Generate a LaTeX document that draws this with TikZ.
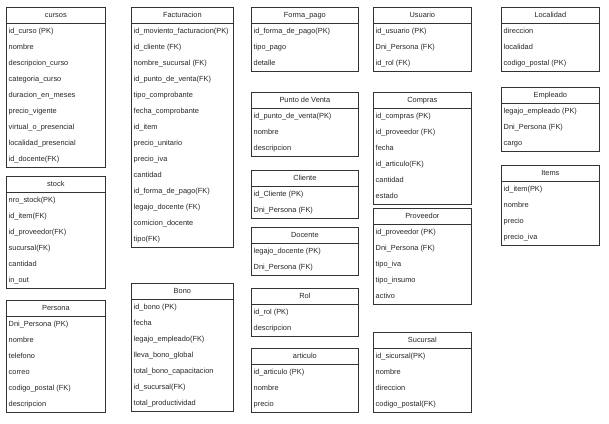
\documentclass[tikz,border=0pt]{standalone}
\usepackage{fontspec}
\setmainfont{Liberation Sans}
\usetikzlibrary{calc,shadows}

\begin{document}
\begin{tikzpicture}[x=1pt,y=-1pt,
    tabla/.style={draw=black!80,line width=0.7pt,fill=white,
      drop shadow={shadow xshift=1.3pt,shadow yshift=-1.3pt,opacity=0.3}},
    cabecera/.style={draw=black!80,line width=0.7pt,anchor=north west,
      minimum height=16,inner sep=0pt,text height=5.4pt,text depth=1.6pt,
      text=black!85,font=\fontsize{7.4}{8}\selectfont},
    campo/.style={anchor=west,inner xsep=2.5pt,inner ysep=0pt,text height=5.4pt,
      text depth=1.6pt,text=black!85,font=\fontsize{7.4}{8}\selectfont}]
  \fill[white] (0,0) rectangle (609,423);
  \useasboundingbox (0,0) rectangle (609,423);

  % name / x / y / width / rows / title / fields
  \foreach \n/\x/\y/\w/\k/\t/\campos in {
    cursos/6/7/99/9/cursos/{id\_curso (PK),nombre,descripcion\_curso,categoria\_curso,duracion\_en\_meses,precio\_vigente,virtual\_o\_presencial,localidad\_presencial,id\_docente(FK)},
    stock/6/176/99/6/stock/{nro\_stock(PK),id\_item(FK),id\_proveedor(FK),sucursal(FK),cantidad,in\_out},
    persona/6/300/99/6/Persona/{Dni\_Persona (PK),nombre,telefono,correo,codigo\_postal (FK),descripcion},
    facturacion/131/7/102/14/Facturacion/{id\_moviento\_facturacion(PK),id\_cliente (FK),nombre\_sucursal (FK),id\_punto\_de\_venta(FK),tipo\_comprobante,fecha\_comprobante,id\_item,precio\_unitario,precio\_iva,cantidad,id\_forma\_de\_pago(FK),legajo\_docente (FK),comicion\_docente,tipo(FK)},
    bono/131/283/102/7/Bono/{id\_bono (PK),fecha,legajo\_empleado(FK),lleva\_bono\_global,total\_bono\_capacitacion,id\_sucursal(FK),total\_productividad},
    formapago/251/7/107/3/Forma\_pago/{id\_forma\_de\_pago(PK),tipo\_pago,detalle},
    punto/251/92/107/3/Punto de Venta/{id\_punto\_de\_venta(PK),nombre,descripcion},
    cliente/251/170/107/2/Cliente/{id\_Cliente (PK),Dni\_Persona (FK)},
    docente/251/227/107/2/Docente/{legajo\_docente (PK),Dni\_Persona (FK)},
    rol/251/288/107/2/Rol/{id\_rol (PK),descripcion},
    articulo/251/348/107/3/articulo/{id\_articulo (PK),nombre,precio},
    usuario/373/7/98/3/Usuario/{id\_usuario (PK),Dni\_Persona (FK),id\_rol (FK)},
    compras/373/92/98/6/Compras/{id\_compras (PK),id\_proveedor (FK),fecha,id\_articulo(FK),cantidad,estado},
    proveedor/373/208/98/5/Proveedor/{id\_proveedor (PK),Dni\_Persona (FK),tipo\_iva,tipo\_insumo,activo},
    sucursal/373/332/98/4/Sucursal/{id\_sicursal(PK),nombre,direccion,codigo\_postal(FK)},
    localidad/501/7/98/3/Localidad/{direccion,localidad,codigo\_postal (PK)},
    empleado/501/87/98/3/Empleado/{legajo\_empleado (PK),Dni\_Persona (FK),cargo},
    items/501/165/98/4/Items/{id\_item(PK),nombre,precio,precio\_iva}}
  {
    \draw[tabla] (\x,\y) rectangle ++(\w,{(\k+1)*16});
    \node[cabecera,minimum width=\w] (\n) at (\x,\y) {\t};
    \foreach \c [count=\i] in \campos
      \node[campo] (\n-\i) at ($(\n.south west)+(0,{(\i-0.5)*16})$) {\c};
  }
\end{tikzpicture}
\end{document}
